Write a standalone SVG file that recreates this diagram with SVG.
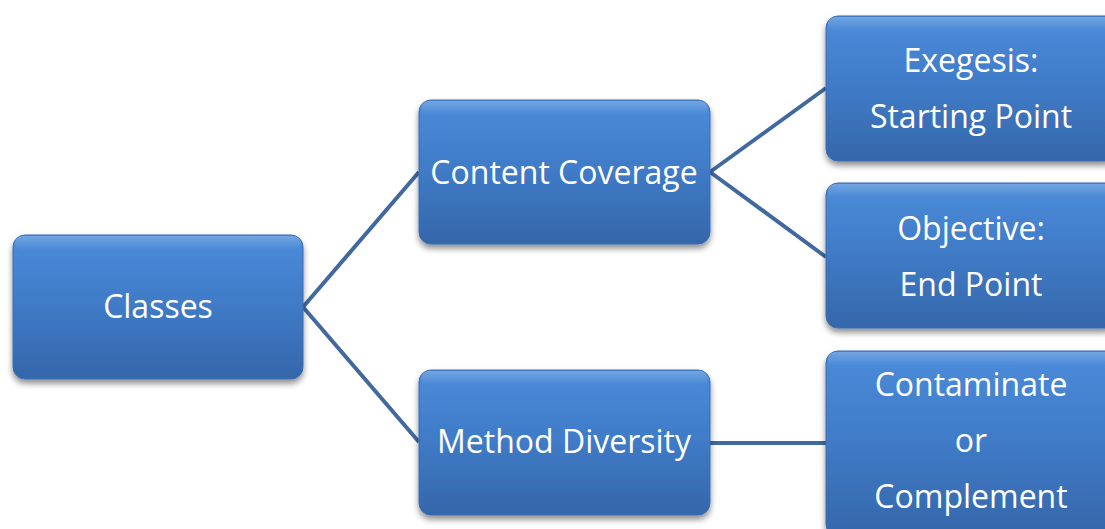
<svg xmlns="http://www.w3.org/2000/svg" width="1105" height="529" viewBox="0 0 1105 529">
<defs>
<linearGradient id="g" x1="0" y1="0" x2="0" y2="1">
<stop offset="0" stop-color="#4b8cda"/>
<stop offset="0.5" stop-color="#3f7ac6"/>
<stop offset="1" stop-color="#3567aa"/>
</linearGradient>
<linearGradient id="hl" x1="0" y1="0" x2="0" y2="1">
<stop offset="0" stop-color="#ffffff" stop-opacity="0.22"/>
<stop offset="1" stop-color="#ffffff" stop-opacity="0"/>
</linearGradient>
<filter id="sh" x="-10%" y="-10%" width="120%" height="130%">
<feGaussianBlur in="SourceAlpha" stdDeviation="3"/>
<feOffset dx="0" dy="4" result="b"/>
<feComponentTransfer><feFuncA type="linear" slope="0.45"/></feComponentTransfer>
<feMerge><feMergeNode/><feMergeNode in="SourceGraphic"/></feMerge>
</filter>
</defs>
<style>
.box{fill:url(#g);stroke:#3a6db0;stroke-width:1;filter:url(#sh)}
.gl{fill:url(#hl)}
.t{font-family:"Open Sans","Liberation Sans",sans-serif;font-size:32px;fill:#ffffff;text-anchor:middle}
.c{stroke:#41699f;stroke-width:4;fill:none}
</style>
<rect width="1105" height="529" fill="#ffffff"/>
<g id="connectors">
<path class="c" d="M303 307 L419 172 M303 307 L419 442 M710 172 L826 88 M710 172 L826 257 M710 443 L826 443"/>
</g>
<g id="classes">
<rect class="box" x="13" y="235" width="290" height="144" rx="12"/>
<rect class="gl" x="15" y="236" width="286" height="14" rx="8"/>
<text class="t" x="158" y="318">Classes</text>
</g>
<g id="content-coverage">
<rect class="box" x="419" y="100" width="291" height="144" rx="12"/>
<rect class="gl" x="421" y="101" width="287" height="14" rx="8"/>
<text class="t" x="564" y="184">Content Coverage</text>
</g>
<g id="method-diversity">
<rect class="box" x="419" y="370" width="291" height="145" rx="12"/>
<rect class="gl" x="421" y="371" width="287" height="14" rx="8"/>
<text class="t" x="564" y="453">Method Diversity</text>
</g>
<g id="exegesis">
<rect class="box" x="826" y="16" width="292" height="145" rx="12"/>
<rect class="gl" x="828" y="17" width="288" height="14" rx="8"/>
<text class="t" x="971" y="72">Exegesis:</text>
<text class="t" x="971" y="128">Starting Point</text>
</g>
<g id="objective">
<rect class="box" x="826" y="183" width="292" height="145" rx="12"/>
<rect class="gl" x="828" y="184" width="288" height="14" rx="8"/>
<text class="t" x="971" y="240">Objective:</text>
<text class="t" x="971" y="296">End Point</text>
</g>
<g id="contaminate">
<rect class="box" x="826" y="351" width="292" height="185" rx="12"/>
<rect class="gl" x="828" y="352" width="288" height="14" rx="8"/>
<text class="t" x="971" y="396">Contaminate</text>
<text class="t" x="971" y="452">or</text>
<text class="t" x="971" y="508">Complement</text>
</g>
</svg>
